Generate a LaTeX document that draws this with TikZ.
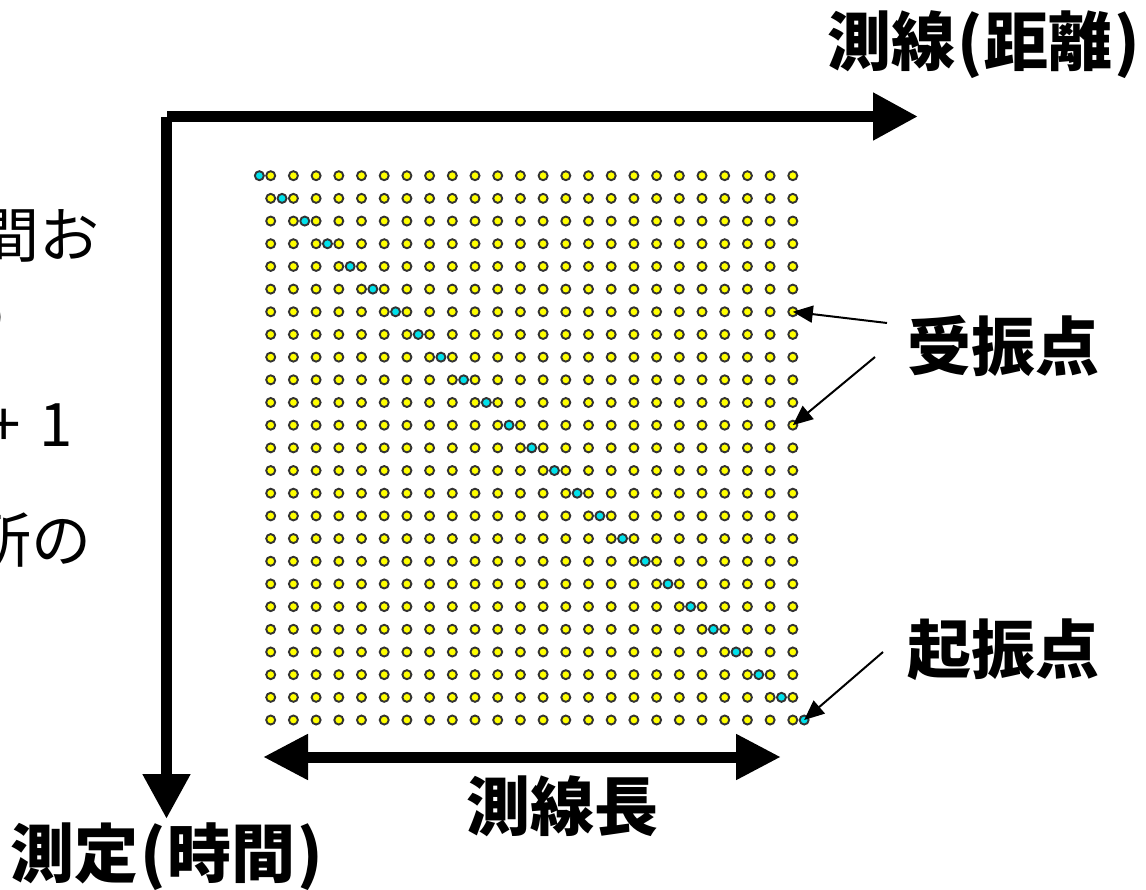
\documentclass[tikz,border=0pt]{standalone}
\usepackage{fontspec}
\newfontfamily\jp{Noto Sans CJK JP}
\usetikzlibrary{arrows.meta}

\definecolor{shotcyan}{RGB}{0,225,235}
\definecolor{recvyellow}{RGB}{255,255,0}

\tikzset{
  recv/.style={circle,draw=black!80,fill=recvyellow,line width=1.9pt,minimum size=9pt,inner sep=0pt},
  shot/.style={recv,fill=shotcyan},
  axis/.style={line width=11pt,-{Triangle[length=45pt,width=45pt]}},
  ptr/.style={line width=2pt,-{Triangle[length=20pt,width=17pt]}},
  lbl/.style={font=\jp\bfseries\fontsize{64}{70}\selectfont,inner sep=0pt},
  side/.style={font=\jp\fontsize{60}{66}\selectfont,inner sep=0pt,anchor=east},
}

\begin{document}
\begin{tikzpicture}[x=1pt,y=-1pt]
\useasboundingbox (0,0) rectangle (1146,890);

% axes
\coordinate (xstart) at (167,116.5);
\coordinate (xend) at (918,116.5);
\coordinate (tstart) at (166.5,117);
\coordinate (tend) at (166.5,819);
\draw[axis] (xstart) -- (xend);
\draw[axis] (tstart) -- (tend);

% receivers and shots
\foreach \r in {0,...,24}{
  \foreach \c in {0,...,23}
    \node[recv] (g-\r-\c) at ({270.7+22.7*\c},{175.7+22.68*\r}) {};
  \node[shot] (s-\r) at ({259.35+22.7*\r},{175.7+22.68*\r}) {};
}

% line length
\coordinate (lenL) at (263,757);
\coordinate (lenR) at (781,757);
\draw[axis,{Triangle[length=45pt,width=43pt]}-{Triangle[length=45pt,width=43pt]}] (lenL) -- (lenR);

% labels
\node[lbl] (dist) at (984,45) {測線\hspace{2pt}(\hspace{2pt}距離\hspace{2pt})};
\node[lbl] (time) at (167,857) {測定\hspace{2pt}(\hspace{2pt}時間\hspace{2pt})};
\node[lbl] (len) at (562,806) {測線長};
\node[lbl] (recvlbl) at (1003,346) {受振点};
\node[lbl] (shotlbl) at (1003,650) {起振点};

\node[side] (t1) at (100,235) {時間お};
\node[side] (t2) at (7,318) {の};
\node[side] (t3) at (73,425) {+\hspace{19pt}1};
\node[side] (t4) at (92,540) {所の};

% pointers
\coordinate (p1) at (887,323);
\coordinate (p2) at (875,357);
\coordinate (p3) at (883,652);
\draw[ptr] (p1) -- (g-6-23.center);
\draw[ptr] (p2) -- (g-11-23.center);
\draw[ptr] (p3) -- (s-24.center);

\end{tikzpicture}
\end{document}
